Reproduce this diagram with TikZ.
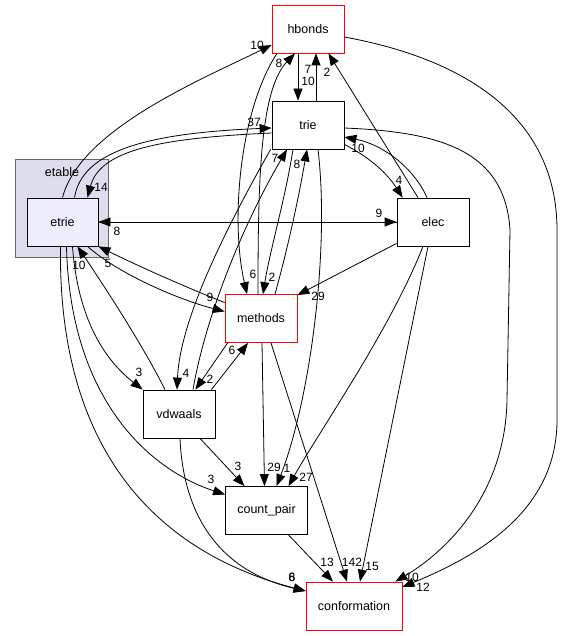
\documentclass[tikz,border=0pt]{standalone}
\usepackage{fontspec}
\setmainfont{Liberation Sans}
\usetikzlibrary{arrows.meta,calc}
\newcommand\nodefnt{\fontsize{12.5}{14}\selectfont}
\newcommand\lblfnt{\fontsize{12}{13}\selectfont}
\definecolor{clfill}{RGB}{221,221,238}
\definecolor{etfill}{RGB}{238,238,255}
\tikzset{
  box/.style={draw=black, line width=0.8pt, minimum width=72pt, minimum height=48pt, inner sep=0pt, fill=white, font=\nodefnt},
  redbox/.style={box, draw=red},
  edge/.style={line width=0.8pt, -{Triangle[length=12pt,width=9pt]}},
  lbl/.style={font=\lblfnt, inner sep=0pt}
}
\begin{document}
\begin{tikzpicture}[x=1pt,y=-1pt]
\useasboundingbox (0,0) rectangle (563,636);
% cluster
\node[draw=black!60, line width=0.8pt, fill=clfill, minimum width=93pt, minimum height=98pt, inner sep=0pt] (etable) at (61.5,208) {};
\node[font=\nodefnt, inner sep=0pt] (etablelbl) at (62,172) {etable};
% nodes
\node[box, fill=etfill, minimum width=71pt] (etrie) at (62.5,222) {etrie};
\node[redbox] (hbonds) at (308,29) {hbonds};
\node[box] (trie) at (308,125) {trie};
\node[box] (elec) at (433,222) {elec};
\node[redbox] (methods) at (261,318.5) {methods};
\node[box] (vdwaals) at (179,414) {vdwaals};
\node[box, minimum width=82pt] (countpair) at (266.5,510.5) {count\_pair};
\node[redbox, minimum width=96pt] (conformation) at (354,606) {conformation};
% hbonds <-> trie
\draw[edge] ($(hbonds.south)+(-10,0)$) -- ($(trie.north)+(-10,0)$);
\draw[edge] ($(trie.north)+(8,0)$) -- ($(hbonds.south)+(8,0)$);
% elec -> hbonds
\draw[edge] ($(elec.north)+(-15,0)$) -- ($(hbonds.south east)+(-16,0)$);
% etrie -> hbonds
\draw[edge] (etrie.north) .. controls (80,130) and (200,80) .. ($(hbonds.west)+(0,16)$);
% etrie -> trie
\draw[edge] ($(etrie.north)+(12,0)$) .. controls (82,150) and (150,133) .. ($(trie.west)+(0,3)$);
% trie -> etrie
\draw[edge] ($(trie.west)+(0,8)$) .. controls (160,138) and (100,150) .. ($(etrie.north)+(25,0)$);
% etrie <-> elec
\draw[edge] (etrie.east) -- (elec.west);
\draw[edge] (elec.west) -- (etrie.east);
% etrie <-> methods
\draw[edge] ($(etrie.south)+(25,0)$) .. controls (120,275) and (180,300) .. ($(methods.west)+(0,-7)$);
\draw[edge] ($(methods.west)+(0,-16)$) .. controls (180,285) and (130,262) .. (etrie.south east);
% vdwaals -> etrie
\draw[edge] ($(vdwaals.north)+(-14,0)$) .. controls (140,340) and (100,280) .. ($(etrie.south)+(15,0)$);
% etrie -> vdwaals
\draw[edge] ($(etrie.south)+(10,0)$) .. controls (78,320) and (105,360) .. ($(vdwaals.north west)+(0,0)$);
% etrie -> count_pair
\draw[edge] ($(etrie.south)+(4,0)$) .. controls (70,400) and (150,470) .. ($(countpair.west)+(0,-16)$);
% etrie -> conformation
\draw[edge] ($(etrie.south)+(-2,0)$) .. controls (58,420) and (130,545) .. ($(conformation.west)+(0,-15)$);
% vdwaals -> conformation
\draw[edge] ($(vdwaals.south)+(1,0)$) .. controls (183,510) and (215,570) .. ($(conformation.west)+(0,-15)$);
% vdwaals -> count_pair
\draw[edge] ($(vdwaals.south)+(21,0)$) -- ($(countpair.north)+(-22,0)$);
% trie -> vdwaals
\draw[edge] ($(trie.south west)+(-1,0)$) .. controls (225,230) and (180,320) .. ($(vdwaals.north)+(-2,0)$);
% vdwaals -> trie
\draw[edge] ($(vdwaals.north)+(14,0)$) .. controls (205,320) and (240,230) .. ($(trie.south)+(-21,0)$);
% methods <-> vdwaals
\draw[edge] ($(methods.south west)+(3,0)$) -- ($(vdwaals.north east)+(-20,0)$);
\draw[edge] ($(vdwaals.north east)+(-4,0)$) -- ($(methods.south)+(-13,0)$);
% hbonds <-> methods
\draw[edge] ($(hbonds.south)+(-31,0)$) .. controls (240,110) and (230,220) .. ($(methods.north)+(-14,0)$);
\draw[edge] ($(methods.north)+(-3,0)$) .. controls (258,180) and (260,90) .. ($(hbonds.south)+(-13,0)$);
% trie <-> methods
\draw[edge] ($(trie.south)+(-15,0)$) .. controls (285,200) and (270,250) .. ($(methods.north)+(2,0)$);
\draw[edge] ($(methods.north)+(14,0)$) .. controls (290,240) and (300,190) .. ($(trie.south)+(-1,0)$);
% trie -> count_pair
\draw[edge] ($(trie.south)+(10,0)$) .. controls (330,250) and (310,400) .. ($(countpair.north)+(10,0)$);
% elec <-> trie
\draw[edge] ($(elec.north)+(-6,0)$) .. controls (415,170) and (385,145) .. ($(trie.east)+(0,12)$);
\draw[edge] ($(trie.south east)+(0,-5)$) .. controls (365,155) and (385,170) .. ($(elec.north west)+(6,0)$);
% elec -> methods
\draw[edge] ($(elec.south west)+(0,-3)$) -- ($(methods.north east)+(0,1)$);
% elec -> count_pair
\draw[edge] ($(elec.south)+(-10,0)$) .. controls (390,330) and (320,430) .. ($(countpair.north)+(22,0)$);
% elec -> conformation
\draw[edge] ($(elec.south)+(-5,0)$) -- ($(conformation.north)+(6,0)$);
% trie -> conformation
\draw[edge] ($(trie.east)+(0,3)$) .. controls (440,132) and (505,150) .. (510,230) -- (507,400) .. controls (505,500) and (440,555) .. ($(conformation.north east)+(-7,0)$);
% hbonds -> conformation
\draw[edge] ($(hbonds.east)+(0,8)$) .. controls (470,60) and (557,120) .. (557,230) -- (557,420) .. controls (557,510) and (480,555) .. ($(conformation.east)+(0,-19)$);
% methods -> conformation
\draw[edge] ($(methods.south)+(10,0)$) -- ($(conformation.north)+(-7,0)$);
% methods -> count_pair
\draw[edge] ($(methods.south)+(1,0)$) -- ($(countpair.north)+(-2,0)$);
% count_pair -> conformation
\draw[edge] ($(countpair.south)+(22,0)$) -- ($(conformation.north)+(-21,0)$);
% labels
\node[lbl] (l1) at (257,45) {10};
\node[lbl] (l2) at (279,63) {8};
\node[lbl] (l3) at (308,69) {7};
\node[lbl] (l4) at (308,81) {10};
\node[lbl] (l5) at (327,72) {2};
\node[lbl] (l6) at (254,122) {37};
\node[lbl] (l7) at (101,187) {14};
\node[lbl] (l8) at (275,158) {7};
\node[lbl] (l9) at (297,164) {8};
\node[lbl] (l10) at (358,148) {10};
\node[lbl] (l11) at (399,180) {4};
\node[lbl] (l12) at (379,213) {9};
\node[lbl] (l13) at (117,231) {8};
\node[lbl] (l14) at (79,265) {10};
\node[lbl] (l15) at (108,263) {5};
\node[lbl] (l16) at (210,297) {9};
\node[lbl] (l17) at (253,274) {6};
\node[lbl] (l18) at (272,277) {2};
\node[lbl] (l19) at (318,296) {29};
\node[lbl] (l20) at (232,350) {6};
\node[lbl] (l21) at (139,372) {3};
\node[lbl] (l22) at (186,373) {4};
\node[lbl] (l23) at (210,379) {2};
\node[lbl] (l24) at (238,466) {3};
\node[lbl] (l25) at (274,467) {29};
\node[lbl] (l26) at (287,468) {1};
\node[lbl] (l27) at (306,477) {27};
\node[lbl] (l28) at (211,479) {3};
\node[lbl] (l29) at (292,577) {6};
\node[lbl] (l30) at (292,577) {8};
\node[lbl] (l31) at (327,562) {13};
\node[lbl] (l32) at (352,562) {142};
\node[lbl] (l33) at (372,566) {15};
\node[lbl] (l34) at (412,577) {10};
\node[lbl] (l35) at (423,587) {12};
\end{tikzpicture}
\end{document}
